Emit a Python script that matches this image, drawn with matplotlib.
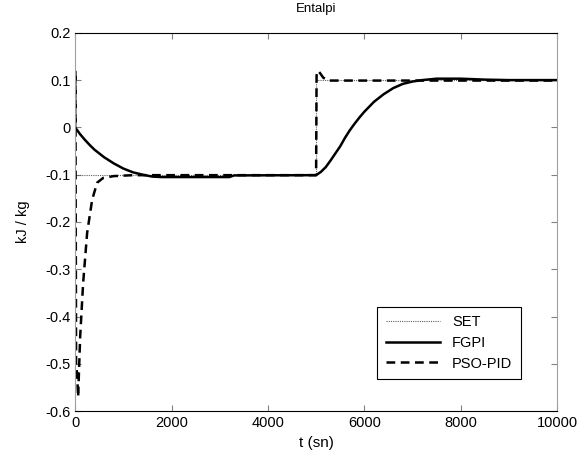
import matplotlib
matplotlib.use("Agg")
import matplotlib.pyplot as plt

plt.rcParams['font.family'] = ['Liberation Sans', 'DejaVu Sans']
plt.rcParams['axes.unicode_minus'] = False

# Set point
t_set = [0, 5000, 5000, 10000]
y_set = [-0.1, -0.1, 0.1, 0.1]

# FGPI response
t_fgpi = [0, 100, 200, 300, 400, 500, 600, 800, 1000, 1200, 1400, 1600, 1800,
          2400, 3200, 3300, 5000, 5100, 5200, 5300, 5400, 5500,
          5600, 5700, 5800, 5900, 6000, 6200, 6400, 6600, 6800, 7000, 7200,
          7500, 8000, 8500, 9000, 10000]
y_fgpi = [0.0, -0.014, -0.026, -0.037, -0.047, -0.055, -0.063, -0.076,
          -0.087, -0.095, -0.100, -0.104, -0.105, -0.105, -0.105, -0.1015,
          -0.1010, -0.094, -0.084, -0.070, -0.055,
          -0.040, -0.022, -0.006, 0.008, 0.021, 0.033, 0.054, 0.070, 0.083,
          0.092, 0.097, 0.100, 0.103, 0.103, 0.101, 0.100, 0.100]

# PSO-PID response
t_pso = [0, 5, 20, 40, 62, 104, 166, 249, 353, 456, 580, 800, 1200, 5000,
         5010, 5040, 5080, 5150, 5250, 10000]
y_pso = [0.0, 0.12, -0.50, -0.52, -0.57, -0.443, -0.329, -0.223, -0.153,
         -0.117, -0.107, -0.103, -0.101, -0.101, 0.11, 0.12, 0.115, 0.105,
         0.099, 0.099]

yticks = [0.2, 0.1, 0, -0.1, -0.2, -0.3, -0.4, -0.5, -0.6]
ytick_labels = ["0.2", "0.1", "0", "-0.1", "-0.2", "-0.3", "-0.4", "-0.5", "-0.6"]
xticks = [0, 2000, 4000, 6000, 8000, 10000]

fig = plt.figure(figsize=(5.87, 4.62), dpi=100)
ax = fig.add_axes([0.128, 0.110, 0.821, 0.819])

ax.plot(t_set, y_set, color="#606060", linewidth=0.8, linestyle=(0, (1, 1)),
        label="SET")
ax.plot(t_fgpi, y_fgpi, color="black", linewidth=1.8, label="FGPI")
ax.plot(t_pso, y_pso, color="black", linewidth=1.8, linestyle=(0, (3.5, 2.2)),
        label="PSO-PID")

ax.set_xlim(0, 10000)
ax.set_ylim(-0.6, 0.2)
ax.set_xticks(xticks)
ax.set_xticklabels([str(x) for x in xticks])
ax.set_yticks(yticks)
ax.set_yticklabels(ytick_labels)
ax.tick_params(direction="in", length=4, labelsize=10.5, color="#808080",
               top=True, right=True)

for side in ["left", "right"]:
    ax.spines[side].set_color("#a0a0a0")
for side in ["top", "bottom"]:
    ax.spines[side].set_color("black")

ax.set_title("Entalpi", fontsize=9.5, pad=15)
ax.set_xlabel("t (sn)", fontsize=11, labelpad=4)
ax.set_ylabel("kJ / kg", fontsize=10.5, labelpad=11)

leg = ax.legend(loc="lower right", bbox_to_anchor=(0.94, 0.065), fontsize=10.5,
                handlelength=3.7, fancybox=False, framealpha=1,
                edgecolor="black", borderpad=0.6, labelspacing=0.45)
leg.get_frame().set_linewidth(0.8)

fig.savefig("out.png", dpi=100)
